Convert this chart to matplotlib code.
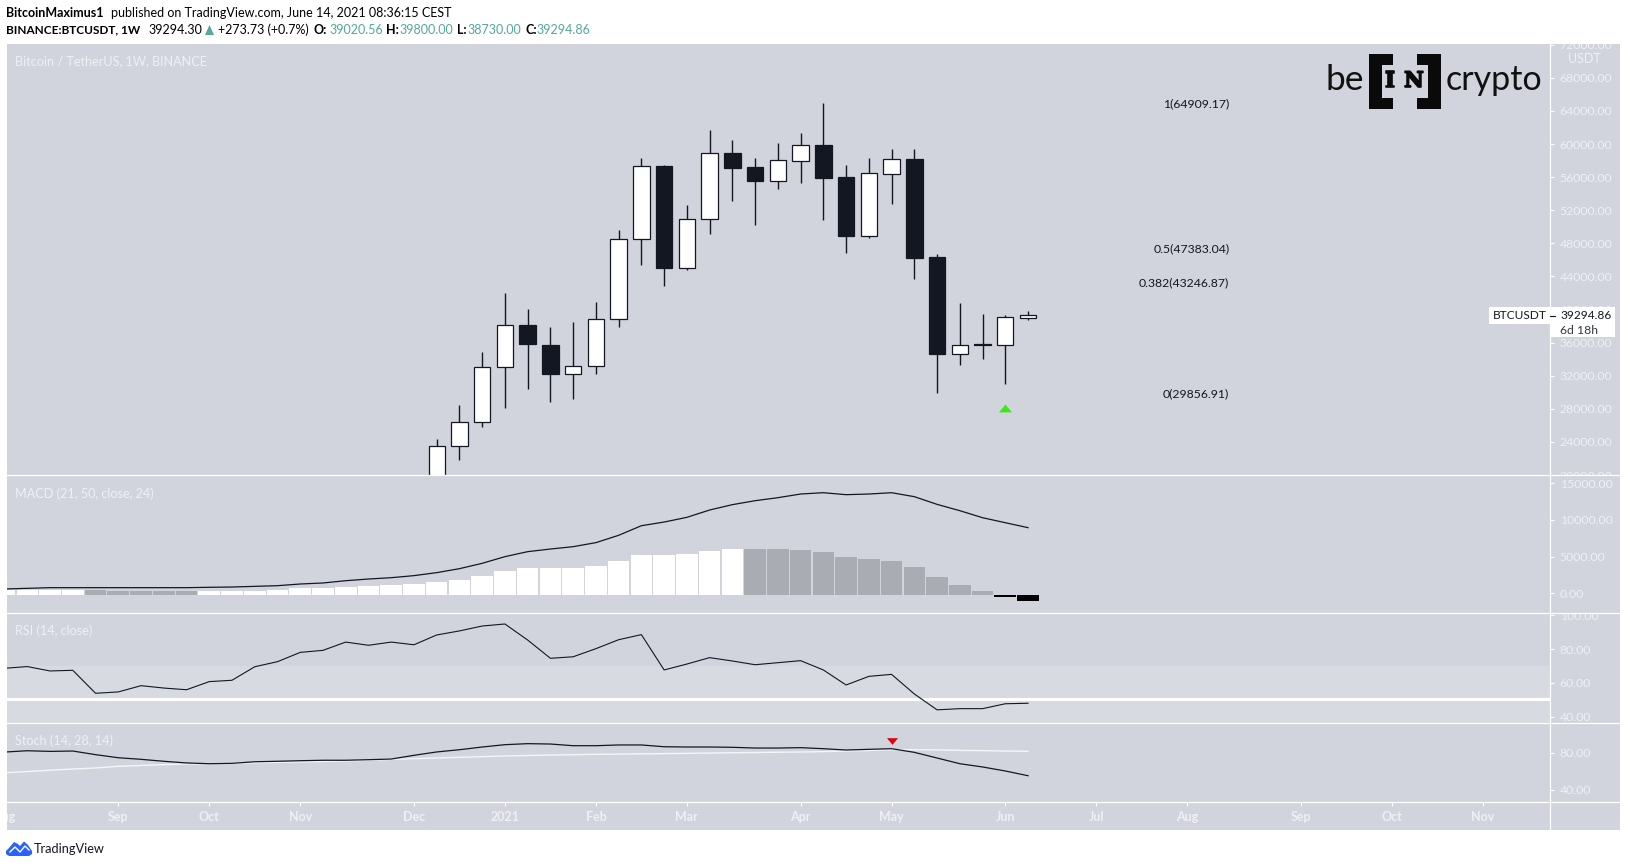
import matplotlib
matplotlib.use('Agg')
import matplotlib.pyplot as plt
import matplotlib.patheffects as pe
from matplotlib.lines import Line2D
from matplotlib.patches import Rectangle, Polygon
from matplotlib.transforms import Bbox

W, H = 1627, 867

# Weekly candles, week numbers count from Aug 3 2020
candle_weeks = list(range(19, 46))
opens = [19170, 23480, 26380, 33030, 38100, 35720, 32250, 33150, 38830, 48500, 57320, 45060, 50910,
         58920, 57230, 55580, 58000, 59890, 56020, 48930, 56420, 58160, 46360, 34670, 35810, 35760, 39020.56]
closes = [23480, 26380, 33030, 38100, 35840, 32220, 33150, 38830, 48500, 57320, 45060, 50910, 58890,
          57110, 55580, 58040, 59850, 55900, 48930, 56510, 58160, 46270, 34670, 35690, 35690, 39070, 39294.86]
highs = [24360, 28470, 34880, 42010, 40070, 37900, 38500, 40920, 49620, 58280, 57470, 52640, 61700,
         60500, 58280, 60130, 61340, 64909.17, 57470, 58320, 59410, 59410, 46720, 40800, 39470, 39350, 39800]
lows = [19000, 21860, 25850, 28150, 30400, 28830, 29230, 32250, 37900, 45430, 42890, 44790, 49140,
        53120, 50220, 54610, 55340, 50830, 46840, 48650, 52760, 43730, 29856.91, 33300, 34030, 31050, 38730]

fib_labels = ['1(64909.17)', '0.5(47383.04)', '0.382(43246.87)', '0(29856.91)']
fib_levels = [64909.17, 47383.04, 43246.87, 29856.91]

# Indicators, one value per week 0..45
macd_line = [820, 910, 1000, 1000, 1000, 1000, 1000, 1000, 1000, 1050, 1090, 1180, 1270, 1500, 1640, 1950,
             2180, 2360, 2640, 3050, 3590, 4320, 5230, 5910, 6270, 6590, 7140, 8140, 9450, 9950, 10590, 11590,
             12320, 12860, 13270, 13770, 13950, 13680, 13770, 13950, 13410, 12360, 11500, 10540, 9860, 9180]
macd_hist = [680, 680, 680, 680, 680, 590, 590, 590, 590, 590, 590, 590, 730, 900, 950, 1090,
             1270, 1400, 1500, 1770, 2050, 2590, 3270, 3680, 3680, 3680, 3950, 4640, 5450, 5450, 5590, 6000,
             6270, 6270, 6270, 6140, 5860, 5180, 4910, 4640, 3820, 2450, 1360, 545, -270, -820]
gray_weeks = [4, 5, 6, 7, 8] + list(range(33, 44))
rsi = [68.6, 69.6, 67.0, 67.4, 53.8, 54.6, 58.3, 56.9, 55.9, 60.7, 61.5, 69.5, 72.5, 78.0, 79.2, 84.1,
       82.2, 84.1, 82.5, 88.3, 90.7, 93.6, 94.8, 85.3, 74.5, 75.4, 80.2, 85.5, 88.5, 67.6, 71.1, 74.9,
       72.9, 70.7, 71.9, 73.1, 67.6, 58.7, 63.8, 65.0, 53.4, 44.0, 44.7, 44.7, 47.6, 47.9]
stoch_k = [80.7, 82.1, 81.4, 81.8, 77.9, 74.6, 72.9, 70.8, 69.0, 68.2, 68.6, 70.3, 70.8, 71.4, 71.9, 71.9,
           72.5, 73.2, 77.2, 80.8, 83.2, 86.1, 88.6, 89.7, 89.3, 87.5, 87.5, 88.3, 88.3, 86.4, 86.1, 86.1,
           85.8, 85.0, 85.0, 85.4, 84.3, 82.9, 83.6, 84.3, 80.4, 74.3, 68.2, 64.7, 60.4, 55.3]
stoch_d = [58.5, 59.8, 61.2, 62.5, 63.6, 65.4, 66.3, 67.2, 67.9, 68.3, 68.6, 69.2, 69.7, 70.1, 70.6, 71.1,
           71.9, 72.8, 73.6, 74.3, 75.0, 75.8, 76.5, 77.0, 77.5, 77.9, 78.2, 78.5, 78.8, 79.0, 79.3, 79.6,
           79.9, 80.2, 80.5, 80.7, 81.2, 81.8, 82.4, 83.2, 83.2, 83.0, 82.5, 82.2, 81.8, 81.5]

month_weeks = [0, 5, 9, 13, 18, 22, 26, 30, 35, 39, 44, 48, 52, 57, 61, 65]
month_labels = ['Aug', 'Sep', 'Oct', 'Nov', 'Dec', '2021', 'Feb', 'Mar', 'Apr', 'May', 'Jun',
                'Jul', 'Aug', 'Sep', 'Oct', 'Nov']

price_ticks = list(range(20000, 72001, 4000))
macd_ticks = [0, 5000, 10000, 15000]
rsi_ticks = [40, 60, 80, 100]
stoch_ticks = [40, 80]

PANEL = '#d1d4dc'
BAND = '#d7dae1'
DARK = '#131722'
TICK = '#eef0f4'
TEAL = '#53a89c'

plt.rcParams['font.family'] = 'Lato'


def fx(px):
    return px / W


def fy(py):
    return 1 - py / H


fig = plt.figure(figsize=(W / 100, H / 100), dpi=100, facecolor='white')
fig.add_artist(Rectangle((fx(7), fy(830)), (1620 - 7) / W, (830 - 44) / H, transform=fig.transFigure,
                         facecolor=PANEL, edgecolor='none', zorder=-1))

X0, X1 = 0.107, 67.95
UP_MARK = [(-1, -0.6), (1, -0.6), (0, 0.6)]
DOWN_MARK = [(-1, 0.6), (1, 0.6), (0, -0.6)]


def pane(top, bottom, ylim, ticks, tick_shift=0):
    ax = fig.add_axes([fx(7), fy(bottom), (1550 - 7) / W, (bottom - top) / H])
    ax.set_facecolor('none')
    ax.set_xlim(X0, X1)
    ax.set_ylim(*ylim)
    ax.set_xticks([])
    for s in ['top', 'left', 'bottom', 'right']:
        ax.spines[s].set_visible(False)
    ax.yaxis.tick_right()
    # the scale labels sit a little above the bars' zero line in the MACD pane
    ax.set_yticks([t + tick_shift for t in ticks])
    ax.set_yticklabels(['%.2f' % t for t in ticks])
    ax.tick_params(axis='y', length=3, width=0.8, color='white', labelcolor=TICK, labelsize=8.8, pad=4)
    box = Bbox([[1550, H - bottom], [1620, H - top]])
    for t in ax.yaxis.get_major_ticks():
        t.label2.set_clip_box(box)
        t.label2.set_clip_on(True)
    return ax


# Price pane
ax = pane(44, 475, (24000 - 33 / 0.008275, 24000 + 398 / 0.008275), price_ticks)
for w, o, c, h, l in zip(candle_weeks, opens, closes, highs, lows):
    ax.vlines(w, l, h, color=DARK, lw=1.0, zorder=2)
    face = 'white' if c >= o else DARK
    ax.bar(w, abs(c - o), bottom=min(o, c), width=0.72, color=face, edgecolor=DARK, lw=0.9, zorder=3)
for lab, lev in zip(fib_labels, fib_levels):
    ax.text(53.85, lev, lab, ha='right', va='center', color=DARK, fontsize=8.8)
ax.plot([44], [28110], marker=UP_MARK, color='#3ce81c', ms=9.4, mew=0, ls='none', zorder=4)

# MACD pane
ax2 = pane(475, 613, (-18 / 0.007333, 120 / 0.007333), macd_ticks, tick_shift=230)
hist_colors = ['black' if v < 0 else '#a9acb3' if i in gray_weeks else 'white' for i, v in enumerate(macd_hist)]
ax2.bar(range(len(macd_hist)), macd_hist, width=0.95, color=hist_colors, zorder=2)
ax2.plot(range(len(macd_line)), macd_line, color=DARK, lw=0.9, zorder=3)

# RSI pane
ax3 = pane(613, 723, (80 - 74 / 1.69, 80 + 36 / 1.69), rsi_ticks)
ax3.axhspan(0, 70, color=BAND, lw=0, zorder=1)
ax3.axhline(50.2, color='white', lw=2.2, zorder=2)
ax3.plot(range(len(rsi)), rsi, color=DARK, lw=0.8, zorder=3)

# Stochastic pane
ax4 = pane(723, 802, (40 - 12 / 0.9325, 80 + 29.7 / 0.9325), stoch_ticks)
ax4.plot(range(len(stoch_d)), stoch_d, color='#f4f5f7', lw=1.0, zorder=2)
ax4.plot(range(len(stoch_k)), stoch_k, color=DARK, lw=0.9, zorder=3)
ax4.plot([39], [92.9], marker=DOWN_MARK, color='#e4000f', ms=8, mew=0, ls='none', zorder=4)

# Time axis
ax5 = fig.add_axes([fx(7), fy(830), (1550 - 7) / W, (830 - 802) / H])
ax5.set_facecolor('none')
ax5.set_xlim(X0, X1)
ax5.set_ylim(0, 1)
ax5.set_yticks([])
for s in ['top', 'left', 'bottom', 'right']:
    ax5.spines[s].set_visible(False)
ax5.set_xticks(month_weeks[1:])
ax5.set_xticklabels([])
ax5.tick_params(axis='x', direction='in', top=True, bottom=False, length=3, width=0.8, color='white')
for w, lab in zip(month_weeks, month_labels):
    ax5.text(w, 0.45, lab, ha='center', va='center', color=TICK, fontsize=9, fontweight='bold', clip_on=True)

# Separators and price axis line
for yy in [475, 613, 723, 802]:
    fig.add_artist(Line2D([fx(7), fx(1620)], [fy(yy), fy(yy)], color='white', lw=0.9, zorder=5))
fig.add_artist(Line2D([fx(1550), fx(1550)], [fy(44), fy(830)], color='white', lw=0.9, zorder=5))

# Pane titles
for py, txt in [(61, 'Bitcoin / TetherUS, 1W, BINANCE'), (494, 'MACD (21, 50, close, 24)'),
                (631, 'RSI (14, close)'), (741, 'Stoch (14, 28, 14)')]:
    fig.text(fx(15), fy(py), txt, color=TICK, fontsize=9.1, va='center')
fig.text(fx(1584), fy(59), 'USDT', color=TICK, fontsize=9, ha='center', va='center', zorder=6)

# Last price labels
fig.add_artist(Rectangle((fx(1489), fy(324)), 61 / W, 17 / H, transform=fig.transFigure,
                         facecolor='white', edgecolor='none', zorder=6))
fig.add_artist(Rectangle((fx(1550), fy(337)), 65 / W, 30 / H, transform=fig.transFigure,
                         facecolor='white', edgecolor='none', zorder=6))
fig.add_artist(Line2D([fx(1550), fx(1555)], [fy(315.5), fy(315.5)], color=DARK, lw=0.8, zorder=7))
fig.text(fx(1519.5), fy(315.5), 'BTCUSDT', color=DARK, fontsize=8.6, ha='center', va='center', zorder=7)
fig.text(fx(1560), fy(315.5), '39294.86', color=DARK, fontsize=8.6, va='center', zorder=7)
fig.text(fx(1560), fy(330), '6d 18h', color='#333844', fontsize=8.8, va='center', zorder=7)

# Header
fig.text(fx(6), fy(13), 'BitcoinMaximus1', color='black', fontsize=9, fontweight='bold', va='center')
fig.text(fx(111), fy(13), 'published on TradingView.com, June 14, 2021 08:36:15 CEST', color='black',
         fontsize=9, va='center')
fig.text(fx(6), fy(30), 'BINANCE:BTCUSDT, 1W', color='black', fontsize=8.5, fontweight='bold', va='center')
fig.text(fx(148.5), fy(30), '39294.30', color='black', fontsize=9, va='center')
fig.add_artist(Polygon([[fx(205), fy(35)], [fx(214), fy(35)], [fx(209.5), fy(25)]], transform=fig.transFigure,
                       facecolor=TEAL, edgecolor='none'))
fig.text(fx(218), fy(30), '+273.73 (+0.7%)', color='black', fontsize=9, va='center')
for xl, lab, xv, val in [(314, 'O:', 329, '39020.56'), (386, 'H:', 399, '39800.00'),
                         (456.6, 'L:', 467, '38730.00'), (525, 'C:', 536.5, '39294.86')]:
    fig.text(fx(xl), fy(30), lab, color='black', fontsize=9, fontweight='bold', va='center')
    fig.text(fx(xv), fy(30), val, color=TEAL, fontsize=9, va='center')

# beincrypto logo
fig.text(fx(1326), fy(80), 'be', color='#111111', fontsize=25.5, va='center')
fig.text(fx(1446), fy(80), 'crypto', color='#111111', fontsize=24.5, va='center')
for x0, y0, x1, y1 in [(1369, 54, 1382, 109), (1369, 54, 1393, 65), (1369, 98, 1393, 109),
                       (1428, 54, 1441, 109), (1417, 54, 1441, 65), (1417, 98, 1441, 109)]:
    fig.add_artist(Rectangle((fx(x0), fy(y1)), (x1 - x0) / W, (y1 - y0) / H, transform=fig.transFigure,
                             facecolor='#0a0a0a', edgecolor='none', zorder=6))
thick = [pe.withStroke(linewidth=1.2, foreground='#0a0a0a')]
fig.text(fx(1390), fy(81), 'I', family='DejaVu Serif', color='#0a0a0a', fontsize=15.5, fontweight='bold',
         ha='center', va='center', zorder=6, path_effects=thick)
fig.text(fx(1414), fy(81), 'N', family='DejaVu Serif', color='#0a0a0a', fontsize=15.5, fontweight='bold',
         ha='center', va='center', zorder=6, path_effects=thick)

# TradingView footer logo
cloud = [(6, 851), (9, 848), (14, 842), (18, 844), (20, 846), (24, 841.5), (28, 845), (32, 851), (32, 854),
         (29, 856), (9, 856), (6, 854)]
fig.add_artist(Polygon([[fx(p[0]), fy(p[1])] for p in cloud], transform=fig.transFigure,
                       facecolor='#2962ff', edgecolor='none'))
fig.add_artist(Line2D([fx(p) for p in (10, 15, 20, 25, 29)], [fy(p) for p in (852, 847, 852, 846, 850)],
                      color='white', lw=1.0))
fig.text(fx(34), fy(849), 'TradingView', color='#131722', fontsize=9.2, va='center')

fig.savefig('out.png', dpi=100)
